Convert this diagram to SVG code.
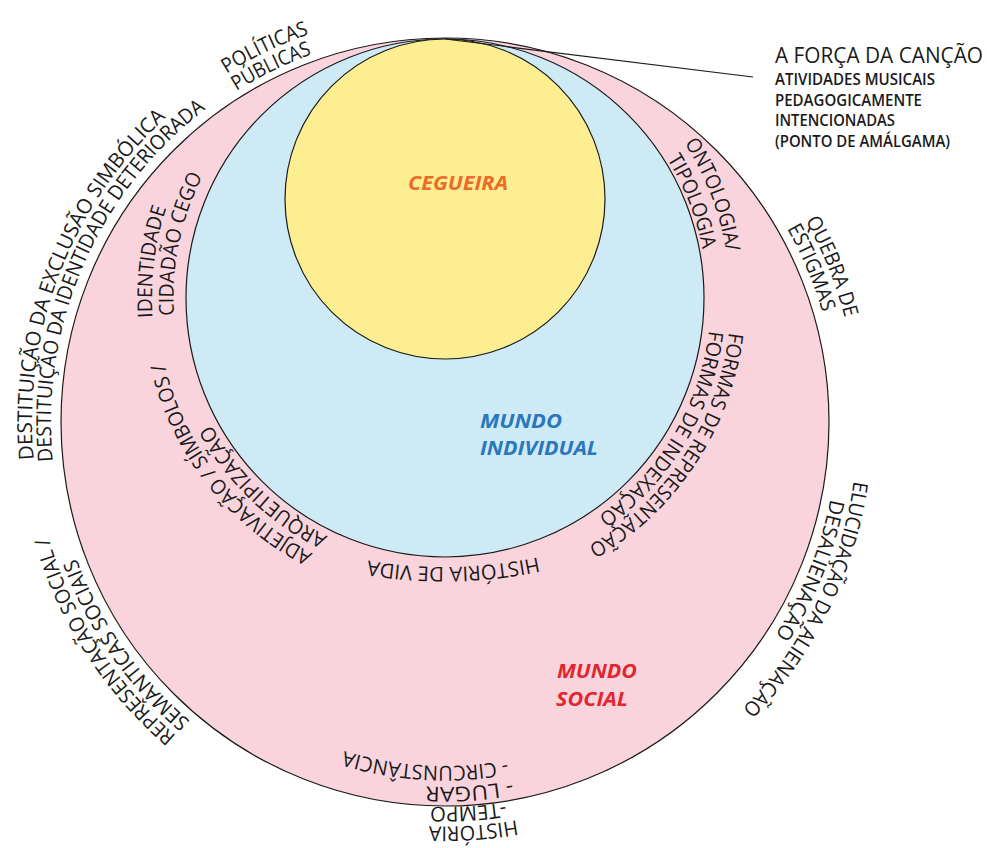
<svg xmlns="http://www.w3.org/2000/svg" width="987" height="848" viewBox="0 0 987 848">
  <style>
    .ring { stroke: #1a1a1a; stroke-width: 1.2; }
    .lbl { font-family: "Open Sans", "Noto Sans", sans-serif; font-size: 20.5px; fill: #1a1a1a; }
    .head { font-family: "Open Sans", "Noto Sans", sans-serif; font-weight: bold; font-style: italic; font-size: 20px; }
    .note { font-family: "Open Sans", "Noto Sans", sans-serif; font-size: 15.5px; font-weight: 600; fill: #1a1a1a; }
    .link { stroke: #1a1a1a; stroke-width: 1.2; fill: none; }
  </style>
  <defs>
    <!-- arcs around the outer (social) circle, centre 445,422 -->
    <path id="pPol" d="M226.6 73.8 A411 411 0 0 1 309.2 34.1"/>
    <path id="pPub" d="M236.6 91.1 A391 391 0 0 1 311.9 54.3"/>
    <path id="pDest1" d="M33.7 459.4 A413 413 0 0 1 166.0 117.5"/>
    <path id="pDest2" d="M52.9 461.1 A394 394 0 0 1 205.7 109.0"/>
    <path id="pQue" d="M805.5 220.5 A413 413 0 0 1 844.7 317.9"/>
    <path id="pEst" d="M787.0 228.5 A393 393 0 0 1 822.4 312.4"/>
    <path id="pElu" d="M853.8 480.9 A413 413 0 0 1 742.1 708.9"/>
    <path id="pDes" d="M830.4 499.0 A393 393 0 0 1 775.0 635.5"/>
    <path id="pRep" d="M176.2 735.6 A413 413 0 0 1 48.4 537.2"/>
    <path id="pSem" d="M190.3 721.3 A393 393 0 0 1 76.4 558.3"/>
    <path id="pHis" d="M516.6 820.1 A404.5 404.5 0 0 1 428.8 826.2"/>
    <path id="pTem" d="M505.2 802.3 A385 385 0 0 1 430.2 806.7"/>
    <path id="pLug" d="M512.1 780.8 A365 365 0 0 1 425.9 786.5"/>
    <path id="pCir" d="M507.1 760.3 A344 344 0 0 1 344.4 751.0"/>
    <!-- arcs around the middle (individual) circle, centre 444,298 -->
    <path id="pIde" d="M152.6 317.4 A292 292 0 0 1 166.3 207.8"/>
    <path id="pCid" d="M174.1 315.5 A270.5 270.5 0 0 1 202.6 176.0"/>
    <path id="pAdj" d="M312.8 553.3 A287 287 0 0 1 164.6 363.5"/>
    <path id="pArq" d="M327.8 536.2 A265 265 0 0 1 211.1 424.4"/>
    <path id="pHdv" d="M538.0 557.1 A450 450 0 0 1 368.0 560.5"/>
    <path id="pFr" d="M728.9 332.5 A287 287 0 0 1 588.4 546.0"/>
    <path id="pFi" d="M709.0 330.5 A267 267 0 0 1 597.9 516.2"/>
    <path id="pOnt" d="M684.4 143.1 A286 286 0 0 1 726.2 251.8"/>
    <path id="pTip" d="M667.3 159.0 A263 263 0 0 1 702.4 249.2"/>
  </defs>

  <!-- outer circle: social world -->
  <g id="mundo-social">
    <circle class="ring" cx="445" cy="422" r="384" fill="#F9D4DD"/>
    <text class="head" fill="#E1262F">
      <tspan x="557" y="678" textLength="80" lengthAdjust="spacingAndGlyphs">MUNDO</tspan>
      <tspan x="556" y="706" textLength="72" lengthAdjust="spacingAndGlyphs">SOCIAL</tspan>
    </text>
  </g>

  <!-- middle circle: individual world -->
  <g id="mundo-individual">
    <circle class="ring" cx="445" cy="298" r="259" fill="#CEEAF5"/>
    <text class="head" fill="#2A77BD">
      <tspan x="480" y="428" textLength="82" lengthAdjust="spacingAndGlyphs">MUNDO</tspan>
      <tspan x="480" y="455" textLength="118" lengthAdjust="spacingAndGlyphs">INDIVIDUAL</tspan>
    </text>
  </g>

  <!-- inner circle: blindness -->
  <g id="cegueira">
    <circle class="ring" cx="445" cy="199" r="160" fill="#FDEE91"/>
    <text class="head" fill="#EC6B2A" x="408" y="190" textLength="100" lengthAdjust="spacingAndGlyphs">CEGUEIRA</text>
  </g>

  <!-- pointer from the common tangent point to the callout -->
  <g id="connectors">
    <line class="link" x1="445" y1="39" x2="753" y2="77"/>
  </g>

  <g id="forca-da-cancao">
    <text x="775" y="63" font-family="Open Sans, Noto Sans, sans-serif" font-size="21" fill="#1a1a1a" textLength="208" lengthAdjust="spacingAndGlyphs">A FORÇA DA CANÇÃO</text>
    <text class="note" x="775" y="85" textLength="160" lengthAdjust="spacingAndGlyphs">ATIVIDADES MUSICAIS</text>
    <text class="note" x="775" y="106" textLength="147" lengthAdjust="spacingAndGlyphs">PEDAGOGICAMENTE</text>
    <text class="note" x="775" y="126" textLength="120" lengthAdjust="spacingAndGlyphs">INTENCIONADAS</text>
    <text class="note" x="775" y="147" textLength="175" lengthAdjust="spacingAndGlyphs">(PONTO DE AMÁLGAMA)</text>
  </g>

  <!-- labels set outside the social circle -->
  <g id="labels-social">
    <text class="lbl"><textPath href="#pPol" textLength="91.8" lengthAdjust="spacingAndGlyphs">POLÍTICAS</textPath></text>
    <text class="lbl"><textPath href="#pPub" textLength="83.9" lengthAdjust="spacingAndGlyphs">PÚBLICAS</textPath></text>
    <text class="lbl"><textPath href="#pDest1" textLength="379.9" lengthAdjust="spacingAndGlyphs">DESTITUIÇÃO DA EXCLUSÃO SIMBÓLICA</textPath></text>
    <text class="lbl"><textPath href="#pDest2" textLength="400.9" lengthAdjust="spacingAndGlyphs">DESTITUIÇÃO DA IDENTIDADE DETERIORADA</textPath></text>
    <text class="lbl"><textPath href="#pQue" textLength="105.2" lengthAdjust="spacingAndGlyphs">QUEBRA DE</textPath></text>
    <text class="lbl"><textPath href="#pEst" textLength="91.2" lengthAdjust="spacingAndGlyphs">ESTIGMAS</textPath></text>
    <text class="lbl"><textPath href="#pElu" textLength="258.1" lengthAdjust="spacingAndGlyphs">ELUCIDAÇÃO DA ALIENAÇÃO</textPath></text>
    <text class="lbl"><textPath href="#pDes" textLength="148.2" lengthAdjust="spacingAndGlyphs">DESALIENAÇÃO</textPath></text>
    <text class="lbl"><textPath href="#pRep" textLength="239.3" lengthAdjust="spacingAndGlyphs">REPRESENTAÇÃO SOCIAL /</textPath></text>
    <text class="lbl"><textPath href="#pSem" textLength="201" lengthAdjust="spacingAndGlyphs">SEMÂNTICAS SOCIAIS</textPath></text>
    <text class="lbl"><textPath href="#pHis" textLength="88.2" lengthAdjust="spacingAndGlyphs">HISTÓRIA</textPath></text>
    <text class="lbl"><textPath href="#pTem" textLength="75.3" lengthAdjust="spacingAndGlyphs">-TEMPO</textPath></text>
    <text class="lbl"><textPath href="#pLug" textLength="86.6" lengthAdjust="spacingAndGlyphs">- LUGAR</textPath></text>
    <text class="lbl"><textPath href="#pCir" textLength="164.5" lengthAdjust="spacingAndGlyphs">- CIRCUNSTÂNCIA</textPath></text>
  </g>

  <!-- labels set in the band between the individual and social circles -->
  <g id="labels-individual">
    <text class="lbl"><textPath href="#pIde" textLength="111.1" lengthAdjust="spacingAndGlyphs">IDENTIDADE</textPath></text>
    <text class="lbl"><textPath href="#pCid" textLength="144" lengthAdjust="spacingAndGlyphs">CIDADÃO CEGO</textPath></text>
    <text class="lbl"><textPath href="#pAdj" textLength="248.5" lengthAdjust="spacingAndGlyphs">ADJETIVAÇÃO / SÍMBOLOS /</textPath></text>
    <text class="lbl"><textPath href="#pArq" textLength="164.2" lengthAdjust="spacingAndGlyphs">ARQUETIPIZAÇÃO</textPath></text>
    <text class="lbl"><textPath href="#pHdv" textLength="171" lengthAdjust="spacingAndGlyphs">HISTÓRIA DE VIDA</textPath></text>
    <text class="lbl"><textPath href="#pFr" textLength="265" lengthAdjust="spacingAndGlyphs">FORMAS DE REPRESENTAÇÃO</textPath></text>
    <text class="lbl"><textPath href="#pFi" textLength="222.7" lengthAdjust="spacingAndGlyphs">FORMAS DE INDEXAÇÃO</textPath></text>
    <text class="lbl"><textPath href="#pOnt" textLength="117.3" lengthAdjust="spacingAndGlyphs">ONTOLOGIA/</textPath></text>
    <text class="lbl"><textPath href="#pTip" textLength="97.3" lengthAdjust="spacingAndGlyphs">TIPOLOGIA</textPath></text>
  </g>
</svg>
